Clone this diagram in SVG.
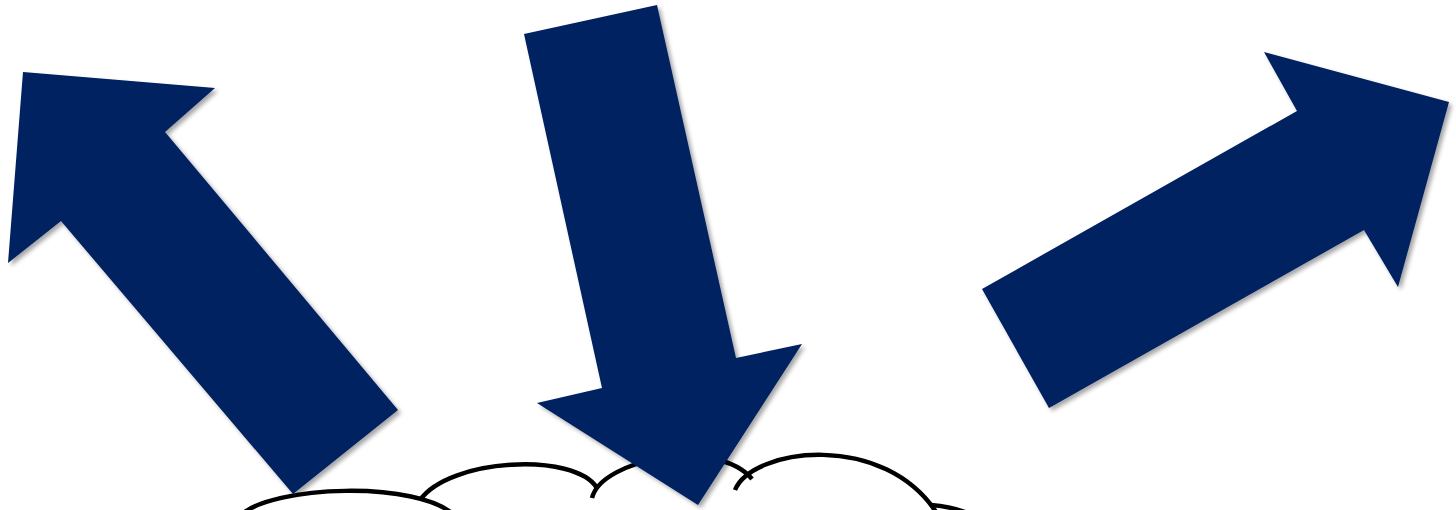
<svg xmlns="http://www.w3.org/2000/svg" width="1456" height="510" viewBox="0 0 1456 510">
  <style>
    .arrow { fill: #022060; filter: url(#shadow); }
    .cloud { fill: none; stroke: #000000; stroke-width: 4.5; stroke-linecap: butt; }
  </style>
  <defs>
    <filter id="shadow" x="-10%" y="-10%" width="130%" height="130%">
      <feDropShadow dx="3" dy="3" stdDeviation="2" flood-color="#000000" flood-opacity="0.35"/>
    </filter>
  </defs>
  <rect width="1456" height="510" fill="#ffffff"/>
  <g id="cloud">
    <path class="cloud" d="M 240 516 C 270 485, 420 480, 455 516"/>
    <path class="cloud" d="M 420 500 C 450 458, 575 452, 597 488"/>
    <path class="cloud" d="M 592 498 C 602 458, 718 438, 752 479"/>
    <path class="cloud" d="M 735 490 C 752 448, 885 430, 938 515"/>
    <path class="cloud" d="M 931 505 C 945 506, 958 509, 970 514"/>
  </g>
  <g id="arrow-left">
    <polygon class="arrow" points="23,72 215,88 165,132 398,410 293,494 61,221 8,263"/>
  </g>
  <g id="arrow-middle">
    <polygon class="arrow" points="524,34 657,5 736,358 802,344 698,505 537,403 602,388"/>
  </g>
  <g id="arrow-right">
    <polygon class="arrow" points="982,289 1297,111 1264,52 1449,102 1398,287 1364,230 1049,408"/>
  </g>
</svg>
